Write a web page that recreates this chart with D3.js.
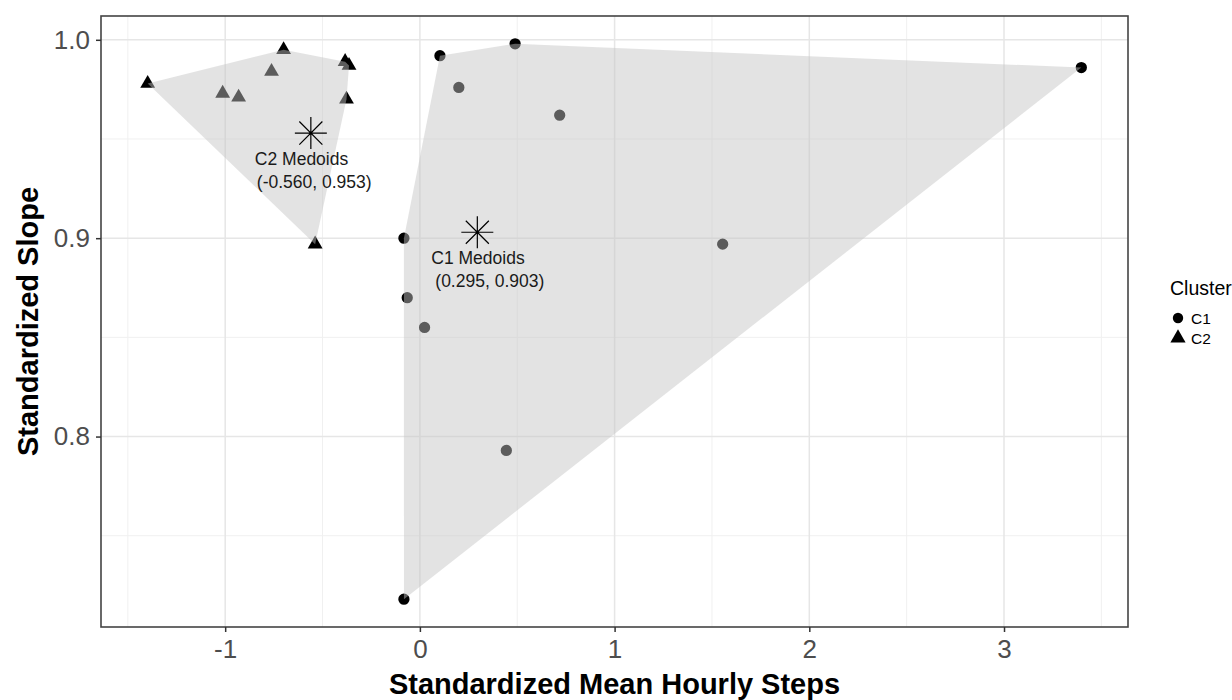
<!DOCTYPE html>
<html>
<head>
<meta charset="utf-8">
<script src="https://cdn.jsdelivr.net/npm/d3@7"></script>
<style>
  body { margin: 0; background: #fff; }
  svg text { font-family: "Liberation Sans", Arial, sans-serif; }
</style>
</head>
<body>
<div id="chart"></div>
<script>
// cluster C1 (circles)
const c1X = [3.397, 0.489, 0.103, 0.200, 0.718, -0.082, 1.555, -0.065, 0.024, 0.444, -0.082];
const c1Y = [0.986, 0.998, 0.992, 0.976, 0.962, 0.900, 0.897, 0.870, 0.855, 0.793, 0.718];
// cluster C2 (triangles)
const c2X = [-1.398, -0.700, -0.762, -1.013, -0.931, -0.384, -0.364, -0.377, -0.538];
const c2Y = [0.978, 0.995, 0.984, 0.973, 0.971, 0.989, 0.987, 0.970, 0.897];

const clusterNames = ["C1", "C2"];
const medoidX = [0.295, -0.560];
const medoidY = [0.903, 0.953];

const xTicks = [-1, 0, 1, 2, 3];
const xMinor = [-1.5, -0.5, 0.5, 1.5, 2.5, 3.5];
const yTicks = [0.8, 0.9, 1.0];
const yMinor = [0.75, 0.85, 0.95];

const width = 1232, height = 700;
const panel = { left: 101, top: 16, right: 1128, bottom: 627 };

const svg = d3.select("#chart").append("svg")
  .attr("width", width)
  .attr("height", height);

const allX = c1X.concat(c2X), allY = c1Y.concat(c2Y);
const pad = (ext) => { const d = (ext[1] - ext[0]) * 0.05; return [ext[0] - d, ext[1] + d]; };

const x = d3.scaleLinear().domain(pad(d3.extent(allX))).range([panel.left, panel.right]);
const y = d3.scaleLinear().domain(pad(d3.extent(allY))).range([panel.bottom, panel.top]);

// grid
const grid = svg.append("g");
grid.selectAll(".xminor").data(xMinor).enter().append("line")
  .attr("x1", d => x(d)).attr("x2", d => x(d))
  .attr("y1", panel.top).attr("y2", panel.bottom)
  .attr("stroke", "#f0f0f0").attr("stroke-width", 1);
grid.selectAll(".yminor").data(yMinor).enter().append("line")
  .attr("y1", d => y(d)).attr("y2", d => y(d))
  .attr("x1", panel.left).attr("x2", panel.right)
  .attr("stroke", "#f0f0f0").attr("stroke-width", 1);
grid.selectAll(".xmajor").data(xTicks).enter().append("line")
  .attr("x1", d => x(d)).attr("x2", d => x(d))
  .attr("y1", panel.top).attr("y2", panel.bottom)
  .attr("stroke", "#e6e6e6").attr("stroke-width", 1.5);
grid.selectAll(".ymajor").data(yTicks).enter().append("line")
  .attr("y1", d => y(d)).attr("y2", d => y(d))
  .attr("x1", panel.left).attr("x2", panel.right)
  .attr("stroke", "#e6e6e6").attr("stroke-width", 1.5);

const c1 = c1X.map((v, i) => [x(v), y(c1Y[i])]);
const c2 = c2X.map((v, i) => [x(v), y(c2Y[i])]);

// points (drawn under the translucent hulls)
const pts = svg.append("g");
pts.selectAll(".c1").data(c1).enter().append("path")
  .attr("d", d3.symbol().type(d3.symbolCircle).size(100))
  .attr("transform", d => `translate(${d[0]},${d[1]})`)
  .attr("fill", "#000");
pts.selectAll(".c2").data(c2).enter().append("path")
  .attr("d", d3.symbol().type(d3.symbolTriangle).size(95))
  .attr("transform", d => `translate(${d[0]},${d[1]})`)
  .attr("fill", "#000");

// convex hulls
svg.append("g").selectAll("path")
  .data([d3.polygonHull(c1), d3.polygonHull(c2)])
  .enter().append("path")
  .attr("d", d => "M" + d.join("L") + "Z")
  .attr("fill", "#c4c4c4")
  .attr("fill-opacity", 0.47);

// medoids
const star = (r) => {
  const k = r * 0.72;
  return `M${-r},0L${r},0M0,${-r}L0,${r}M${-k},${-k}L${k},${k}M${-k},${k}L${k},${-k}`;
};
const med = svg.append("g");
med.selectAll("path").data(medoidX).enter().append("path")
  .attr("d", star(16))
  .attr("transform", (d, i) => `translate(${x(d)},${y(medoidY[i])})`)
  .attr("stroke", "#000").attr("stroke-width", 1.2).attr("fill", "none");

const labelDx = [[-46, -42], [-56, -54]];
medoidX.forEach((mx, i) => {
  const px = x(mx), py = y(medoidY[i]);
  med.append("text").attr("x", px + labelDx[i][0]).attr("y", py + 32)
    .attr("font-size", 17.5).attr("fill", "#1a1a1a")
    .text(`${clusterNames[i]} Medoids`);
  med.append("text").attr("x", px + labelDx[i][1]).attr("y", py + 55)
    .attr("font-size", 17.5).attr("fill", "#1a1a1a")
    .text(`(${mx.toFixed(3)}, ${medoidY[i].toFixed(3)})`);
});

// panel border
svg.append("rect")
  .attr("x", panel.left).attr("y", panel.top)
  .attr("width", panel.right - panel.left).attr("height", panel.bottom - panel.top)
  .attr("fill", "none").attr("stroke", "#444").attr("stroke-width", 1.6);

// axes
const xAxis = svg.append("g")
  .attr("transform", `translate(0,${panel.bottom})`)
  .call(d3.axisBottom(x).tickValues(xTicks).tickSize(5).tickPadding(8).tickFormat(d => String(d)));
const yAxis = svg.append("g")
  .attr("transform", `translate(${panel.left},0)`)
  .call(d3.axisLeft(y).tickValues(yTicks).tickSize(5).tickPadding(6).tickFormat(d3.format(".1f")));
[xAxis, yAxis].forEach(a => {
  a.select(".domain").remove();
  a.selectAll(".tick line").attr("stroke", "#333").attr("stroke-width", 1.5);
  a.selectAll(".tick text").attr("fill", "#4d4d4d").attr("font-size", 26)
    .attr("font-family", "'Liberation Sans', Arial, sans-serif");
});

// axis titles
svg.append("text")
  .attr("x", (panel.left + panel.right) / 2).attr("y", 694)
  .attr("text-anchor", "middle").attr("font-weight", "bold").attr("font-size", 29)
  .text("Standardized Mean Hourly Steps");
svg.append("text")
  .attr("transform", `translate(38,${(panel.top + panel.bottom) / 2}) rotate(-90)`)
  .attr("text-anchor", "middle").attr("font-weight", "bold").attr("font-size", 29)
  .text("Standardized Slope");

// legend
const leg = svg.append("g").attr("transform", "translate(1170,0)");
leg.append("text").attr("x", 0).attr("y", 295).attr("font-size", 19.5).text("Cluster");
const legSym = [d3.symbolCircle, d3.symbolTriangle];
clusterNames.forEach((name, i) => {
  const cy = 318 + i * 20;
  leg.append("path")
    .attr("d", d3.symbol().type(legSym[i]).size(i ? 100 : 85))
    .attr("transform", `translate(8,${cy})`).attr("fill", "#000");
  leg.append("text").attr("x", 21).attr("y", cy + 5.5).attr("font-size", 15.5).text(name);
});
</script>
</body>
</html>
